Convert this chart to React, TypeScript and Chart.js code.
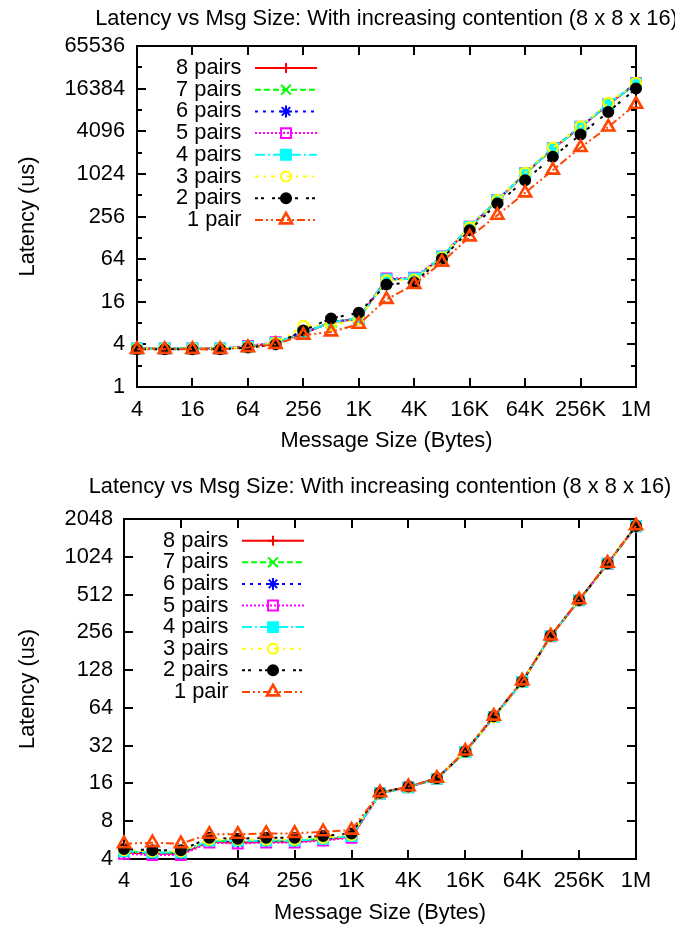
import React, { useEffect, useRef } from 'react';
import { Chart, registerables } from 'chart.js';

Chart.register(...registerables);

// ---------- data ----------
const messageSizes = [4, 8, 16, 32, 64, 128, 256, 512, 1024, 2048, 4096, 8192, 16384, 32768, 65536, 131072, 262144, 524288, 1048576];
const xTickValues = [4, 16, 64, 256, 1024, 4096, 16384, 65536, 262144, 1048576];
const xTickLabels = ['4', '16', '64', '256', '1K', '4K', '16K', '64K', '256K', '1M'];
const seriesNames = ['8 pairs', '7 pairs', '6 pairs', '5 pairs', '4 pairs', '3 pairs', '2 pairs', '1 pair'];

const topYTicks = [1, 4, 16, 64, 256, 1024, 4096, 16384, 65536];
const topYMinorTicks = [2, 8, 32, 128, 512, 2048, 8192, 32768];
const bottomYTicks = [4, 8, 16, 32, 64, 128, 256, 512, 1024, 2048];

// top chart latencies (us)
const top8 = [3.5, 3.5, 3.5, 3.5, 3.7, 4.2, 5.7, 8.2, 9.2, 33, 34, 68, 180, 432, 1030, 2330, 4680, 9800, 19200];
const top7 = [3.5, 3.5, 3.5, 3.5, 3.7, 4.2, 5.8, 8.3, 9.3, 33, 34, 69, 182, 436, 1036, 2340, 4700, 9860, 19300];
const top6 = [3.5, 3.5, 3.5, 3.5, 3.7, 4.2, 5.8, 8.2, 9.2, 33, 34, 69, 181, 434, 1034, 2340, 4700, 9850, 19300];
const top5 = [3.5, 3.5, 3.5, 3.5, 3.8, 4.3, 5.8, 8.3, 9.3, 34, 35, 70, 184, 440, 1045, 2360, 4740, 9900, 19500];
const top4 = [3.5, 3.5, 3.5, 3.5, 3.7, 4.2, 5.8, 8.2, 9.3, 33, 34, 69, 182, 436, 1036, 2340, 4700, 9860, 19300];
const top3 = [3.5, 3.5, 3.5, 3.5, 3.7, 4.2, 7.3, 7.5, 9.0, 32, 33, 68, 180, 436, 1060, 2400, 4800, 10300, 19800];
const top2 = [3.4, 3.4, 3.4, 3.4, 3.6, 4.0, 6.3, 9.3, 11.2, 28, 30, 65, 164, 391, 833, 1780, 3680, 7680, 16400];
const top1 = [3.4, 3.4, 3.4, 3.4, 3.6, 4.0, 5.4, 6.0, 7.7, 17.3, 28, 58, 132, 267, 552, 1155, 2420, 4700, 9860];

// bottom chart latencies (us)
const bot8 = [4.5, 4.4, 4.4, 5.5, 5.4, 5.5, 5.5, 5.7, 6.0, 13.4, 15.0, 17.5, 28.6, 54, 103, 239, 461, 903, 1795];
const bot7 = [4.6, 4.5, 4.5, 5.6, 5.5, 5.6, 5.6, 5.8, 6.1, 13.4, 15.0, 17.5, 28.6, 54, 103, 239, 461, 903, 1795];
const bot6 = [4.6, 4.5, 4.5, 5.6, 5.5, 5.6, 5.6, 5.8, 6.1, 13.4, 15.0, 17.5, 28.6, 54, 103, 239, 461, 903, 1795];
const bot5 = [4.4, 4.3, 4.3, 5.4, 5.3, 5.4, 5.4, 5.6, 5.9, 13.3, 14.9, 17.4, 28.5, 54, 103, 238, 460, 900, 1790];
const bot4 = [4.6, 4.5, 4.5, 5.6, 5.6, 5.6, 5.6, 5.8, 6.1, 13.3, 14.9, 17.4, 28.5, 54, 103, 239, 461, 903, 1795];
const bot3 = [4.7, 4.6, 4.6, 5.7, 5.7, 5.7, 5.7, 5.9, 6.2, 13.4, 15.0, 17.5, 28.6, 54, 103, 239, 461, 903, 1795];
const bot2 = [4.8, 4.7, 4.7, 5.9, 5.8, 5.9, 5.9, 6.1, 6.4, 13.5, 15.1, 17.6, 28.8, 55, 104, 240, 463, 906, 1800];
const bot1 = [5.3, 5.4, 5.3, 6.3, 6.3, 6.4, 6.4, 6.6, 6.8, 13.5, 15.1, 17.6, 29.0, 55, 105, 240, 465, 910, 1810];

const TITLE = 'Latency vs Msg Size: With increasing contention (8 x 8 x 16)';

// ---------- styles ----------
const FONT = 'Liberation Sans';
const FS = 21.8;
const colors = ['#ff0000', '#00ff00', '#0000ff', '#ff00ff', '#00ffff', '#ffff00', '#000000', '#ff4500'];
const dashes = [[], [6, 3], [3, 5], [2, 2], [10, 3, 2, 3], [4, 5, 2, 5], [3, 3, 3, 8], [8, 3, 2, 3, 2, 3]];
const pStyles = ['cross', 'crossRot', 'star', 'rect', 'rect', 'circle', 'circle', 'triangle'];
const pRadii = [5, 7, 6, 7, 7, 5, 5, 7];
const pBorder = [2, 2, 2, 2, 2, 2.2, 2, 2.6];
const pFilled = [false, false, false, false, true, false, true, false];

function drawMarker(ctx: CanvasRenderingContext2D, style: string, x: number, y: number, r: number, filled: boolean, color: string, lw: number) {
  ctx.save();
  ctx.setLineDash([]);
  ctx.strokeStyle = color;
  ctx.fillStyle = color;
  ctx.lineWidth = lw;
  ctx.beginPath();
  const d = r * Math.SQRT1_2;
  if (style === 'cross' || style === 'star') {
    ctx.moveTo(x, y - r); ctx.lineTo(x, y + r);
    ctx.moveTo(x - r, y); ctx.lineTo(x + r, y);
  }
  if (style === 'crossRot' || style === 'star') {
    ctx.moveTo(x - d, y - d); ctx.lineTo(x + d, y + d);
    ctx.moveTo(x - d, y + d); ctx.lineTo(x + d, y - d);
  }
  if (style === 'rect') ctx.rect(x - d, y - d, 2 * d, 2 * d);
  if (style === 'circle') ctx.arc(x, y, r, 0, Math.PI * 2);
  if (style === 'triangle') {
    for (let k = 0; k < 3; k++) {
      const ang = (k * 2 * Math.PI) / 3;
      const px = x + Math.sin(ang) * r;
      const py = y - Math.cos(ang) * r;
      if (k === 0) ctx.moveTo(px, py); else ctx.lineTo(px, py);
    }
    ctx.closePath();
  }
  if (filled) ctx.fill();
  ctx.stroke();
  ctx.restore();
}

const gnuplotPlugin = {
  id: 'gnuplot',
  beforeDatasetsDraw(chart: any, _args: any, opts: any) {
    const { ctx, chartArea: a, scales } = chart;
    ctx.save();
    ctx.setLineDash([]);
    ctx.strokeStyle = '#000';
    ctx.lineWidth = 2;
    ctx.strokeRect(a.left, a.top, a.right - a.left, a.bottom - a.top);
    ctx.beginPath();
    const major = 9;
    const minor = 5;
    for (const v of opts.xTicks) {
      const px = Math.round(scales.x.getPixelForValue(v));
      ctx.moveTo(px, a.bottom); ctx.lineTo(px, a.bottom - major);
      ctx.moveTo(px, a.top); ctx.lineTo(px, a.top + major);
    }
    for (const v of opts.yTicks) {
      const py = Math.round(scales.y.getPixelForValue(v));
      ctx.moveTo(a.left, py); ctx.lineTo(a.left + major, py);
      ctx.moveTo(a.right, py); ctx.lineTo(a.right - major, py);
    }
    for (const v of opts.yMinor) {
      const py = Math.round(scales.y.getPixelForValue(v));
      ctx.moveTo(a.left, py); ctx.lineTo(a.left + minor, py);
      ctx.moveTo(a.right, py); ctx.lineTo(a.right - minor, py);
    }
    ctx.stroke();
    ctx.restore();
  },
  afterDatasetsDraw(chart: any, _args: any, opts: any) {
    const { ctx, chartArea: a } = chart;
    ctx.save();
    chart.data.datasets.forEach((d: any, i: number) => {
      const y = a.top + opts.legendTop + i * opts.legendStep;
      ctx.fillStyle = '#000';
      ctx.font = `${FS}px "${FONT}"`;
      ctx.textAlign = 'right';
      ctx.textBaseline = 'middle';
      ctx.fillText(d.label, a.left + 104.5, y);
      ctx.strokeStyle = d.borderColor;
      ctx.lineWidth = d.borderWidth;
      ctx.setLineDash(d.borderDash);
      ctx.beginPath();
      ctx.moveTo(a.left + 118, y);
      ctx.lineTo(a.left + 180, y);
      ctx.stroke();
      drawMarker(ctx, d.pointStyle, a.left + 149, y, d.pointRadius, d.pointBackgroundColor !== 'rgba(0,0,0,0)', d.borderColor, d.pointBorderWidth);
    });
    ctx.restore();
  },
  afterDraw(chart: any, _args: any, opts: any) {
    const { ctx, chartArea: a } = chart;
    ctx.save();
    ctx.fillStyle = '#000';
    ctx.font = `${FS}px "${FONT}"`;
    ctx.textAlign = 'center';
    ctx.textBaseline = 'middle';
    ctx.fillText(opts.title, (a.left + a.right) / 2, opts.titleY);
    ctx.restore();
  },
};

type ChartSpec = {
  series: number[][];
  yTicks: number[];
  yMinor: number[];
  yMin: number;
  yMax: number;
  height: number;
  left: number;
  top: number;
  bottom: number;
  xTickPad: number;
  xTitlePad: number;
  yTickPad: number;
  titleY: number;
  legendTop: number;
  legendStep: number;
};

function buildConfig(s: ChartSpec): any {
  const width = 675;
  const right = 636;
  const datasets = seriesNames.map((name, i) => ({
    label: name,
    data: messageSizes.map((x, k) => ({ x, y: s.series[i][k] })),
    borderColor: colors[i],
    backgroundColor: colors[i],
    borderWidth: 2,
    borderDash: dashes[i],
    pointStyle: pStyles[i],
    pointRadius: pRadii[i],
    pointBorderWidth: pBorder[i],
    pointBorderColor: colors[i],
    pointBackgroundColor: pFilled[i] ? colors[i] : 'rgba(0,0,0,0)',
    pointHoverRadius: pRadii[i],
    tension: 0,
    fill: false,
    clip: false,
    order: 7 - i,
  }));
  return {
    type: 'line',
    data: { datasets },
    plugins: [gnuplotPlugin],
    options: {
      responsive: false,
      animation: false,
      devicePixelRatio: 1,
      layout: { padding: { top: s.top, right: width - right, left: 0, bottom: 0 } },
      plugins: {
        legend: { display: false },
        tooltip: { enabled: false },
        title: { display: false },
        gnuplot: {
          xTicks: xTickValues,
          yTicks: s.yTicks,
          yMinor: s.yMinor,
          title: TITLE,
          titleY: s.titleY,
          legendTop: s.legendTop,
          legendStep: s.legendStep,
        },
      },
      scales: {
        x: {
          type: 'logarithmic',
          min: messageSizes[0],
          max: messageSizes[messageSizes.length - 1],
          afterBuildTicks: (sc: any) => { sc.ticks = xTickValues.map((v) => ({ value: v })); },
          afterFit: (sc: any) => { sc.height = s.height - s.bottom; },
          grid: { display: false, drawTicks: false },
          border: { display: false },
          ticks: {
            autoSkip: false,
            maxRotation: 0,
            minRotation: 0,
            padding: s.xTickPad,
            color: '#000',
            font: { family: FONT, size: FS },
            callback: (v: number) => {
              const idx = xTickValues.indexOf(v);
              return idx >= 0 ? xTickLabels[idx] : '';
            },
          },
          title: {
            display: true,
            text: 'Message Size (Bytes)',
            color: '#000',
            font: { family: FONT, size: FS },
            padding: { top: 0, bottom: s.xTitlePad },
          },
        },
        y: {
          type: 'logarithmic',
          min: s.yMin,
          max: s.yMax,
          afterBuildTicks: (sc: any) => { sc.ticks = s.yTicks.map((v) => ({ value: v })); },
          afterFit: (sc: any) => { sc.width = s.left; },
          grid: { display: false, drawTicks: false },
          border: { display: false },
          ticks: {
            autoSkip: false,
            padding: s.yTickPad,
            color: '#000',
            font: { family: FONT, size: FS },
            callback: (v: number) => String(v),
          },
          title: {
            display: true,
            text: 'Latency (us)',
            color: '#000',
            font: { family: FONT, size: FS },
            padding: { top: 15, bottom: 0 },
          },
        },
      },
    },
  };
}

const topSpec: ChartSpec = {
  series: [top8, top7, top6, top5, top4, top3, top2, top1],
  yTicks: topYTicks,
  yMinor: topYMinorTicks,
  yMin: 1,
  yMax: 65536,
  height: 462,
  left: 137,
  top: 46,
  bottom: 387,
  xTickPad: 10,
  xTitlePad: 8,
  yTickPad: 12,
  titleY: 19,
  legendTop: 22,
  legendStep: 21.7,
};

const bottomSpec: ChartSpec = {
  series: [bot8, bot7, bot6, bot5, bot4, bot3, bot2, bot1],
  yTicks: bottomYTicks,
  yMinor: [],
  yMin: 4,
  yMax: 2048,
  height: 463,
  left: 124,
  top: 57,
  bottom: 397,
  xTickPad: 9,
  xTitlePad: -1,
  yTickPad: 11,
  titleY: 25,
  legendTop: 21.7,
  legendStep: 21.6,
};

export default function App() {
  const ref1 = useRef<HTMLCanvasElement | null>(null);
  const ref2 = useRef<HTMLCanvasElement | null>(null);
  useEffect(() => {
    Chart.defaults.font.family = FONT;
    const c1 = new Chart(ref1.current as HTMLCanvasElement, buildConfig(topSpec));
    const c2 = new Chart(ref2.current as HTMLCanvasElement, buildConfig(bottomSpec));
    return () => { c1.destroy(); c2.destroy(); };
  }, []);
  return (
    <div style={{ position: 'absolute', left: 0, top: 0, width: 675, height: 925, background: '#fff' }}>
      <canvas ref={ref1} width={675} height={462} style={{ display: 'block', width: 675, height: 462 }} />
      <canvas ref={ref2} width={675} height={463} style={{ display: 'block', width: 675, height: 463 }} />
    </div>
  );
}
